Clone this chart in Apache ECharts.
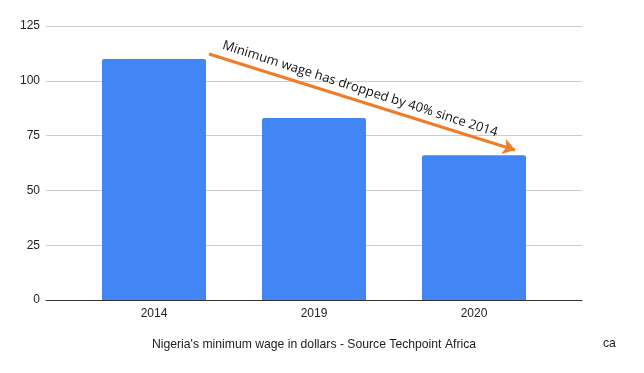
<!DOCTYPE html>
<html>
<head>
<meta charset="utf-8">
<script src="https://cdn.jsdelivr.net/npm/echarts@6/dist/echarts.min.js"></script>
<style>
  html, body { margin: 0; padding: 0; background: #fff; }
  #main { width: 644px; height: 373px; }
</style>
</head>
<body>
<div id="main"></div>
<script>
var years = ['2014', '2019', '2020'];
var wages = [110, 83, 66];
var yTicks = [0, 25, 50, 75, 100, 125];

var chart = echarts.init(document.getElementById('main'));

var option = {
  backgroundColor: '#fff',
  animation: false,
  grid: [
    // grid 0: full-width gridlines, y labels, baseline
    { left: 46, right: 62, top: 26, bottom: 73 },
    // grid 1: bars sit a bit narrower inside
    { left: 74, right: 90, top: 26, bottom: 73 }
  ],
  xAxis: [
    {
      gridIndex: 0,
      type: 'value',
      min: 0,
      max: 1,
      axisLabel: { show: false },
      axisTick: { show: false },
      splitLine: { show: false },
      axisLine: { show: true, onZero: false, lineStyle: { color: '#333', width: 1.2 } }
    },
    {
      gridIndex: 1,
      type: 'category',
      data: years,
      axisLine: { show: false },
      axisTick: { show: false },
      axisLabel: { color: '#222', fontSize: 12, fontFamily: 'Liberation Sans, Arial', margin: 8 },
      name: "Nigeria's minimum wage in dollars - Source Techpoint Africa",
      nameLocation: 'middle',
      nameGap: 39,
      nameTextStyle: { color: '#222', fontSize: 12.2, fontFamily: 'Liberation Sans, Arial' }
    }
  ],
  yAxis: [
    {
      gridIndex: 0,
      type: 'value',
      min: yTicks[0],
      max: yTicks[yTicks.length - 1],
      interval: 25,
      axisLine: { show: false },
      axisTick: { show: false },
      axisLabel: { color: '#222', fontSize: 12, fontFamily: 'Liberation Sans, Arial', margin: 6 },
      splitLine: { lineStyle: { color: '#ccc', width: 1 } }
    },
    {
      gridIndex: 1,
      type: 'value',
      min: yTicks[0],
      max: yTicks[yTicks.length - 1],
      interval: 25,
      show: false
    }
  ],
  series: [
    {
      type: 'bar',
      xAxisIndex: 1,
      yAxisIndex: 1,
      data: wages,
      barWidth: 104,
      itemStyle: { color: '#4285F4', borderRadius: [2, 2, 0, 0] },
      z: 3,
      markLine: {
        silent: true,
        symbol: ['none', 'arrow'],
        symbolSize: 12,
        label: { show: false },
        lineStyle: { color: '#F07C2A', width: 3, type: 'solid', opacity: 1 },
        data: [[{ x: 209, y: 54 }, { x: 515, y: 150 }]]
      }
    }
  ],
  graphic: [
    {
      type: 'text',
      x: 360,
      y: 89,
      rotation: -0.31,
      style: {
        text: 'Minimum wage has dropped by 40% since 2014',
        fill: '#111',
        font: '13px "Open Sans", sans-serif',
        align: 'center',
        verticalAlign: 'middle'
      },
      z: 10
    },
    {
      type: 'text',
      x: 603,
      y: 344,
      style: {
        text: 'ca',
        fill: '#222',
        font: '12.2px "Liberation Sans", Arial',
        verticalAlign: 'middle'
      }
    }
  ]
};

chart.setOption(option);
</script>
</body>
</html>
